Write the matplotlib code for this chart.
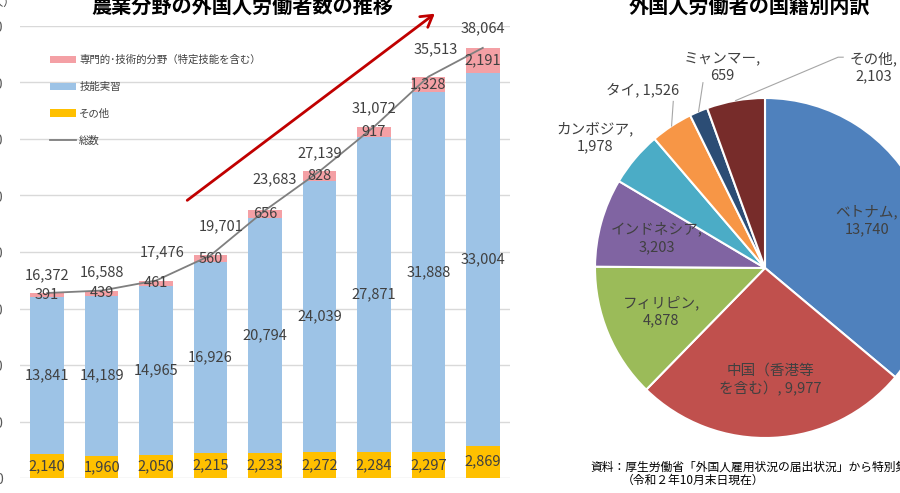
import numpy as np
import matplotlib
matplotlib.use('Agg')
import matplotlib.pyplot as plt
from matplotlib.patches import FancyArrowPatch

plt.rcParams['font.family'] = ['Noto Sans CJK JP', 'DejaVu Sans']

# left chart data (number of foreign workers in agriculture)
years = ['2012', '2013', '2014', '2015', '2016', '2017', '2018', '2019', '2020']
other = [2140, 1960, 2050, 2215, 2233, 2272, 2284, 2297, 2869]
trainee = [13841, 14189, 14965, 16926, 20794, 24039, 27871, 31888, 33004]
skilled = [391, 439, 461, 560, 656, 828, 917, 1328, 2191]
total = [16372, 16588, 17476, 19701, 23683, 27139, 31072, 35513, 38064]
legend_labels = ['専門的･技術的分野（特定技能を含む）', '技能実習', 'その他', '総数']

# right chart data (nationality breakdown)
nations = ['ベトナム', '中国（香港等\nを含む）', 'フィリピン', 'インドネシア',
           'カンボジア', 'タイ', 'ミャンマー', 'その他']
nation_counts = [13740, 9977, 4878, 3203, 1978, 1526, 659, 2103]

W, H = 900, 493
TXT = '#404040'
C_SKILL, C_TRAIN, C_OTHER = '#f4a0a5', '#9dc3e6', '#ffc000'
PIE_COLORS = ['#4f81bd', '#c0504d', '#9bbb59', '#8064a2',
              '#4bacc6', '#f79646', '#2c4d75', '#772c2a']
# label offsets in pixels for the total labels
TOT_OFF = [(0, 18), (0, 18), (6, 28), (11, 29), (10, 31), (0, 18), (0, 19), (7, 27), (0, 20)]


def px(x, y):
    return x / W, 1 - y / H


fig = plt.figure(figsize=(9, 4.93), dpi=100)

# ---- stacked bars
ax = fig.add_axes([20 / W, 15 / H, 490 / W, 452 / H])
x = np.arange(len(years))
bw = 0.615
b1 = ax.bar(x, other, bw, color=C_OTHER, zorder=2)
b2 = ax.bar(x, trainee, bw, bottom=other, color=C_TRAIN, zorder=2)
bot2 = np.array(other) + np.array(trainee)
b3 = ax.bar(x, skilled, bw, bottom=bot2, color=C_SKILL, zorder=2)
ln, = ax.plot(x, total, color='#7f7f7f', lw=1.3, zorder=3)

fs = 10.5
for i in x:
    ax.text(i, other[i] / 2, f'{other[i]:,}', ha='center', va='center', fontsize=fs, color=TXT, zorder=4)
    ax.text(i, other[i] + trainee[i] / 2, f'{trainee[i]:,}', ha='center', va='center', fontsize=fs, color=TXT, zorder=4)
    ax.text(i, bot2[i] + skilled[i] / 2, f'{skilled[i]:,}', ha='center', va='center', fontsize=fs, color=TXT, zorder=4)
    dx, dy = TOT_OFF[i]
    ax.annotate(f'{total[i]:,}', (i, total[i]), xytext=(dx * 0.72, dy * 0.72),
                textcoords='offset points', ha='center', va='center', fontsize=fs, color=TXT, zorder=4)

ax.set_xlim(-0.5, len(years) - 0.5)
ax.set_ylim(0, 40000)
ax.set_yticks(np.arange(0, 40001, 5000))
ax.set_yticklabels([f'{v:,}' for v in range(0, 40001, 5000)])
ax.tick_params(axis='y', length=0, pad=12, labelsize=10, labelcolor='#595959')
ax.set_xticks([])
ax.grid(axis='y', color='#d9d9d9', lw=1, zorder=0)
for s in ax.spines.values():
    s.set_visible(False)

ax.legend([b3, b2, b1, ln], legend_labels, loc='upper left',
          bbox_to_anchor=px(50, 55), bbox_transform=fig.transFigure,
          frameon=False, fontsize=7.5, labelspacing=1.6, handlelength=2.5,
          handleheight=0.7, handletextpad=0.3, borderpad=0, borderaxespad=0,
          labelcolor=TXT)

arrow = FancyArrowPatch(px(185, 202), px(437, 12), transform=fig.transFigure,
                        arrowstyle='->,head_length=5,head_width=3', color='#c00000',
                        lw=2, mutation_scale=1.6)
fig.patches.append(arrow)

fig.text(*px(242, 13), '農業分野の外国人労働者数の推移', ha='center', va='baseline',
         fontsize=14.5, fontweight='bold', color='#000000')
fig.text(*px(15, 3), '（人）', ha='right', va='center', fontsize=8, color=TXT)

# ---- pie
ax2 = fig.add_axes([595 / W, 55 / H, 340 / W, 340 / H])
wedges, _ = ax2.pie(nation_counts, colors=PIE_COLORS, startangle=90, counterclock=False,
                    radius=1, wedgeprops=dict(edgecolor='white', linewidth=1.5))
ax2.set_xlim(-1, 1)
ax2.set_ylim(-1, 1)
ax2.set_aspect('equal')
ax2.axis('off')

seps = [',\n', ', ', ',\n', ',\n', ',\n', ', ', ',\n', ',\n']
labels = [f'{n}{s}{v:,}' for n, s, v in zip(nations, seps, nation_counts)]
mids = [np.deg2rad((w.theta1 + w.theta2) / 2) for w in wedges]
for i in range(4):
    r = 0.66
    ax2.text(r * np.cos(mids[i]), r * np.sin(mids[i]), labels[i], ha='center', va='center',
             fontsize=10.5, color=TXT, linespacing=1.3)

outside_pos = {4: (-1.0, 0.77), 5: (-0.72, 1.05), 6: (-0.25, 1.18), 7: (0.64, 1.18)}
for i, (lx, ly) in outside_pos.items():
    ax2.text(lx, ly, labels[i], ha='center', va='center', fontsize=10.5, color=TXT, linespacing=1.3)

lead = '#a6a6a6'
ex, ey = np.cos(mids[5]), np.sin(mids[5])
ax2.plot([ex, ex + 0.01], [ey, 0.98], color=lead, lw=0.8, clip_on=False)
ex, ey = np.cos(mids[6]), np.sin(mids[6])
ax2.plot([ex, -0.365], [ey, 1.09], color=lead, lw=0.8, clip_on=False)
ex, ey = np.cos(mids[7]), np.sin(mids[7])
ax2.plot([ex, 0.43, 0.46], [ey, 1.24, 1.24], color=lead, lw=0.8, clip_on=False)

fig.text(*px(749, 13), '外国人労働者の国籍別内訳', ha='center', va='baseline',
         fontsize=14.5, fontweight='bold', color='#000000')
fig.text(*px(590, 467), '資料：厚生労働省「外国人雇用状況の届出状況」から特別集計',
         ha='left', va='center', fontsize=8.5, color='#000000')
fig.text(*px(622, 480), '（令和２年10月末日現在）', ha='left', va='center',
         fontsize=8.5, color='#000000')

fig.savefig('out.png', dpi=100)
